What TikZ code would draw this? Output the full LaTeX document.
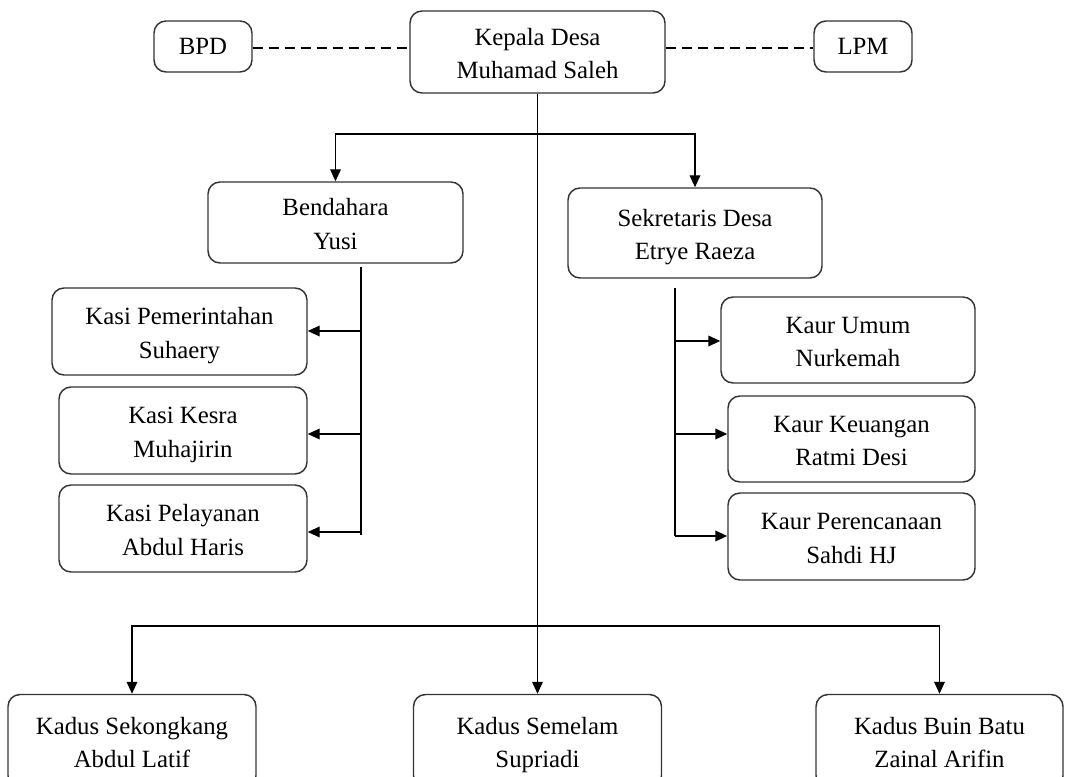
\documentclass[tikz,border=0pt]{standalone}
\usepackage{fontspec}
\setmainfont{Liberation Serif}
\usetikzlibrary{arrows.meta,calc}
\newcommand{\tl}[2]{\rule{0pt}{\dimexpr\ht\strutbox+5pt\relax}\strut #1\\\strut #2}
\begin{document}
\begin{tikzpicture}[x=0.75pt,y=-0.75pt,
  box/.style={draw=black!80, line width=1.1pt, rounded corners=9pt, align=center,
    inner sep=0pt, font=\fontsize{18.6}{25}\selectfont},
  conn/.style={draw=black, line width=1.1pt},
  arr/.style={conn, -{Triangle[length=9pt,width=8pt]}},
  dashline/.style={conn, dash pattern=on 7.5pt off 4.5pt}]
\useasboundingbox (0,0) rectangle (1068,777);
\clip (0,0) rectangle (1068,777);
% top row
\node[box, minimum width=73.5pt, minimum height=38.25pt] (bpd) at (203,46.5) {BPD};
\node[box, minimum width=191.25pt, minimum height=61.5pt] (kepala) at (537.5,52) {\tl{Kepala Desa}{Muhamad Saleh}};
\node[box, minimum width=73.5pt, minimum height=38.25pt] (lpm) at (863,46.5) {LPM};
% second row
\node[box, minimum width=191.25pt, minimum height=60.75pt] (bend) at (335.5,222.5) {\tl{Bendahara}{Yusi}};
\node[box, minimum width=190.5pt, minimum height=67.5pt] (sek) at (695,233) {\tl{Sekretaris Desa}{Etrye Raeza}};
% kasi
\node[box, minimum width=191.25pt, minimum height=65.25pt] (kpem) at (179.5,331.5) {\tl{Kasi Pemerintahan}{Suhaery}};
\node[box, minimum width=186pt, minimum height=65.25pt] (kkes) at (183,430.5) {\tl{Kasi Kesra}{Muhajirin}};
\node[box, minimum width=186pt, minimum height=65.25pt] (kpel) at (183,528.5) {\tl{Kasi Pelayanan}{Abdul Haris}};
% kaur
\node[box, minimum width=190.5pt, minimum height=64.5pt] (kum) at (848,340) {\tl{Kaur Umum}{Nurkemah}};
\node[box, minimum width=185.25pt, minimum height=64.5pt] (kkeu) at (851.5,439) {\tl{Kaur Keuangan}{Ratmi Desi}};
\node[box, minimum width=185.25pt, minimum height=65.25pt] (kper) at (851.5,536.5) {\tl{Kaur Perencanaan}{Sahdi HJ}};
% kadus
\node[box, minimum width=186pt, minimum height=69.75pt] (dsek) at (132,741) {\tl{Kadus Sekongkang}{Abdul Latif}};
\node[box, minimum width=186pt, minimum height=69.75pt] (dsem) at (537.5,741) {\tl{Kadus Semelam}{Supriadi}};
\node[box, minimum width=185.25pt, minimum height=69.75pt] (dbuin) at (939.5,741) {\tl{Kadus Buin Batu}{Zainal Arifin}};
% dashed links
\draw[dashline] (bpd.east |- 0,48) -- (kepala.west |- 0,48);
\draw[dashline] (kepala.east |- 0,48) -- (lpm.west |- 0,48);
% main trunk
\draw[arr] (kepala.south) -- (dsem.north);
\coordinate (j1) at ($(kepala.south |- 0,134)$);
\draw[arr] (j1) -| (bend.north);
\draw[arr] (j1) -| (sek.north);
\coordinate (jb) at ($(kepala.south |- 0,626)$);
\draw[arr] (jb) -| (dsek.north);
\draw[arr] (jb) -| (dbuin.north);
% left bus
\coordinate (lt) at (361,267);
\coordinate (lb) at (361,535);
\draw[conn] (lt) -- (lb);
\draw[arr] (lt |- 0,331) -- (kpem.east |- 0,331);
\draw[arr] (lt |- 0,434) -- (kkes.east |- 0,434);
\draw[arr] (lt |- 0,532) -- (kpel.east |- 0,532);
% right bus
\coordinate (rt) at (675,288);
\coordinate (rb) at (675,536);
\draw[conn] (rt) -- (rb);
\draw[arr] (rt |- 0,341) -- (kum.west |- 0,341);
\draw[arr] (rt |- 0,434) -- (kkeu.west |- 0,434);
\draw[arr] (rb) -- (kper.west |- rb);
\end{tikzpicture}
\end{document}
